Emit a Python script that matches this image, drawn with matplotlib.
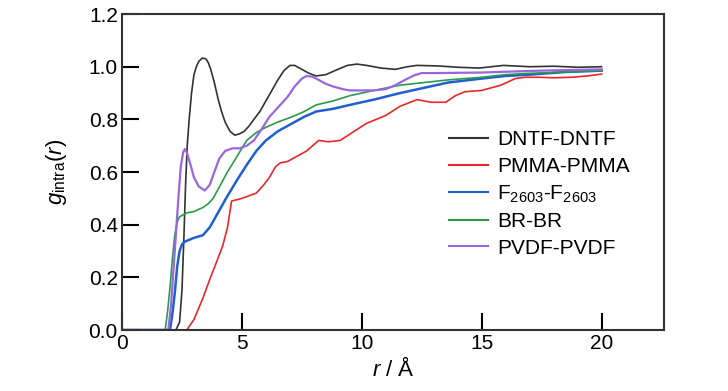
import matplotlib
matplotlib.use("Agg")
import matplotlib.pyplot as plt
import numpy as np

plt.rcParams['font.family'] = ['Liberation Sans', 'DejaVu Sans']
plt.rcParams['mathtext.fontset'] = 'custom'
plt.rcParams['mathtext.rm'] = 'Liberation Sans'
plt.rcParams['mathtext.it'] = 'Liberation Sans:italic'

# DNTF-DNTF
dntf_r = [0, 2.25, 2.4, 2.5, 2.58, 2.65, 2.72, 2.8, 2.9, 3.0, 3.1, 3.2, 3.35, 3.5, 3.6,
          3.7, 3.85, 4.0, 4.15, 4.3, 4.5, 4.7, 4.9, 5.1, 5.3, 5.5, 5.75, 6.0, 6.25, 6.5,
          6.75, 7.0, 7.2, 7.5, 7.8, 8.1, 8.5, 9.0, 9.4, 9.8, 10.2, 10.8, 11.4, 11.9, 12.3,
          13.2, 14.0, 14.9, 15.9, 17.0, 18.0, 19.0, 20.0]
dntf_g = [0, 0, 0.03, 0.15, 0.35, 0.55, 0.7, 0.8, 0.9, 0.97, 1.0, 1.02, 1.033, 1.03, 1.015,
          0.99, 0.94, 0.88, 0.83, 0.79, 0.755, 0.74, 0.745, 0.755, 0.775, 0.80, 0.83, 0.87,
          0.91, 0.95, 0.985, 1.005, 1.005, 0.99, 0.975, 0.965, 0.97, 0.99, 1.005, 1.01, 1.005,
          0.995, 0.99, 1.0, 1.005, 1.003, 0.998, 0.995, 1.005, 1.0, 1.002, 0.998, 1.0]

# PMMA-PMMA
pmma_r = [0, 2.7, 3.0, 3.37, 3.65, 3.95, 4.2, 4.4, 4.5, 4.57, 4.8, 5.0, 5.3, 5.6, 5.9,
          6.15, 6.4, 6.6, 6.9, 7.2, 7.4, 7.7, 7.95, 8.2, 8.6, 9.1, 9.6, 10.2, 10.6, 11.0,
          11.6, 12.3, 12.9, 13.5, 13.9, 14.3, 15.0, 15.8, 16.4, 16.8, 17.4, 18.0, 18.75,
          19.4, 20.0]
pmma_g = [0, 0, 0.04, 0.12, 0.19, 0.26, 0.32, 0.39, 0.45, 0.49, 0.495, 0.50, 0.51, 0.52,
          0.55, 0.58, 0.62, 0.635, 0.64, 0.655, 0.665, 0.68, 0.70, 0.72, 0.715, 0.72, 0.75,
          0.785, 0.80, 0.815, 0.85, 0.875, 0.865, 0.865, 0.89, 0.905, 0.91, 0.93, 0.955,
          0.96, 0.96, 0.958, 0.96, 0.965, 0.972]

# F2603-F2603
f26_r = [0, 2.0, 2.1, 2.2, 2.3, 2.4, 2.5, 2.6, 3.0, 3.37, 3.66, 4.0, 4.37, 4.8, 5.2,
         5.6, 6.0, 6.5, 7.1, 7.6, 8.1, 8.8, 9.5, 10.5, 11.6, 12.6, 13.6, 15.0, 16.0,
         17.0, 18.5, 20.0]
f26_g = [0, 0, 0.06, 0.14, 0.24, 0.30, 0.325, 0.335, 0.35, 0.36, 0.39, 0.445, 0.505, 0.57,
         0.627, 0.68, 0.72, 0.755, 0.785, 0.81, 0.83, 0.84, 0.855, 0.875, 0.90, 0.92, 0.94,
         0.955, 0.965, 0.97, 0.98, 0.985]

# BR-BR
br_r = [0, 1.8, 1.9, 2.0, 2.1, 2.2, 2.3, 2.4, 2.7, 3.0, 3.37, 3.6, 3.8, 4.1, 4.37, 4.8,
        5.2, 5.6, 6.0, 6.5, 7.1, 7.6, 8.1, 8.8, 9.5, 10.5, 11.6, 12.6, 13.6, 15.0, 16.0,
        17.0, 18.5, 20.0]
br_g = [0, 0, 0.07, 0.16, 0.27, 0.36, 0.41, 0.43, 0.445, 0.45, 0.465, 0.48, 0.50, 0.55,
        0.596, 0.66, 0.72, 0.75, 0.77, 0.79, 0.81, 0.83, 0.855, 0.87, 0.89, 0.91, 0.93,
        0.94, 0.95, 0.96, 0.97, 0.975, 0.98, 0.985]

# PVDF-PVDF
pvdf_r = [0, 1.93, 2.05, 2.2, 2.35, 2.45, 2.55, 2.62, 2.7, 2.85, 3.0, 3.2, 3.45, 3.65, 3.85,
          4.05, 4.3, 4.6, 4.9, 5.2, 5.5, 5.8, 6.15, 6.5, 6.9, 7.2, 7.5, 7.7, 7.95, 8.2, 8.5,
          8.8, 9.2, 9.5, 10.5, 11.0, 11.4, 11.8, 12.2, 12.5, 13.2, 15.0, 17.4, 20.0]
pvdf_g = [0, 0, 0.1, 0.3, 0.5, 0.62, 0.675, 0.687, 0.675, 0.63, 0.58, 0.545, 0.53, 0.55, 0.6,
          0.65, 0.68, 0.69, 0.69, 0.70, 0.72, 0.76, 0.81, 0.845, 0.885, 0.925, 0.955, 0.965,
          0.962, 0.95, 0.935, 0.925, 0.915, 0.91, 0.91, 0.915, 0.93, 0.95, 0.968, 0.976,
          0.976, 0.978, 0.985, 0.99]

series = [
    (dntf_r, dntf_g, '#333333', 1.2, 'DNTF-DNTF'),
    (pmma_r, pmma_g, '#e8282a', 1.2, 'PMMA-PMMA'),
    (f26_r, f26_g, '#1f5fd0', 1.8, r'F$_{2603}$-F$_{2603}$'),
    (br_r, br_g, '#2a9a4a', 1.2, 'BR-BR'),
    (pvdf_r, pvdf_g, '#9966dd', 1.6, 'PVDF-PVDF'),
]

fig = plt.figure(figsize=(7.28, 3.91), dpi=100)
ax = fig.add_axes([0.1676, 0.156, 0.7444, 0.808])

for r, g, col, lw, lab in series:
    ax.plot(r, g, color=col, lw=lw, label=lab)

ax.set_xlim(0, 22.6)
ax.set_ylim(0, 1.2)
ax.set_xticks([0, 5, 10, 15, 20])
ax.set_yticks(np.arange(0, 1.21, 0.2))
ax.set_yticklabels(['0.0', '0.2', '0.4', '0.6', '0.8', '1.0', '1.2'])
ax.tick_params(direction='in', length=12, width=1.5, labelsize=15, pad=3,
               top=False, right=False)
for s in ax.spines.values():
    s.set_linewidth(1.5)
    s.set_color('#333333')

ax.set_xlabel(r'$r$ / Å', fontsize=16, labelpad=3)
ax.set_ylabel(r'$g_{\rm intra}(r)$', fontsize=16, labelpad=14)

leg = ax.legend(loc='upper left', bbox_to_anchor=(0.588, 0.658), frameon=False,
                fontsize=15, handlelength=1.87, handletextpad=0.43,
                labelspacing=0.36, borderaxespad=0)
for h in leg.get_lines():
    h.set_linewidth(1.5)

fig.savefig('out.png', dpi=100)
